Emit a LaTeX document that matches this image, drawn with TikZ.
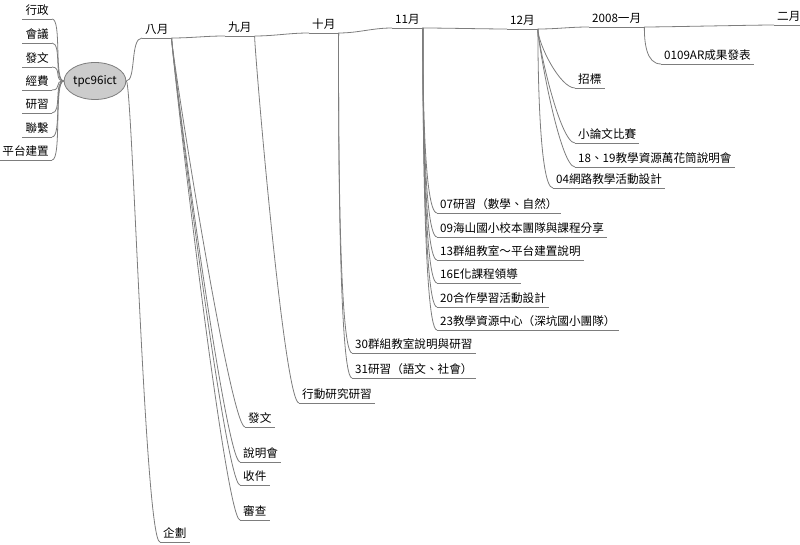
\documentclass[tikz,border=0pt]{standalone}
\usepackage{fontspec}
\setmainfont{Noto Sans CJK TC}
\usepackage{tikz}
\usetikzlibrary{shapes.geometric}
\definecolor{linegray}{RGB}{125,125,125}
\definecolor{rootfill}{RGB}{204,204,204}

\begin{document}
\begin{tikzpicture}[
    x=1pt, y=-1pt,
    topic/.style={anchor=south west, inner xsep=3pt, inner ysep=3pt,
                  font=\fontsize{11.6}{13}\selectfont},
    ltopic/.style={topic, anchor=south east},
    root/.style={ellipse, draw=linegray, fill=rootfill, line width=0.8pt,
                 minimum width=54pt, minimum height=37pt, inner sep=0pt,
                 font=\fontsize{11.6}{13}\selectfont},
    conn/.style={draw=linegray, line width=0.8pt}
]
\useasboundingbox (0,0) rectangle (800,545);

% Root
\node[root] (ict) at (95,81) {tpc96ict};

% Left topics
\node[ltopic] (admin)    at (52, 19) {行政};
\node[ltopic] (meet)     at (52, 43) {會議};
\node[ltopic] (doc)      at (52, 67) {發文};
\node[ltopic] (fund)     at (52, 90) {經費};
\node[ltopic] (study)    at (52,113) {研習};
\node[ltopic] (contact)  at (52,137) {聯繫};
\node[ltopic] (platform) at (52,160) {平台建置};

% Timeline
\node[topic] (aug) at (142,38) {八月};
\node[topic] (sep) at (225,36) {九月};
\node[topic] (oct) at (309,33) {十月};
\node[topic] (nov) at (392,28) {11月};
\node[topic] (dec) at (507,29) {12月};
\node[topic] (jan) at (589,27) {2008一月};
\node[topic] (feb) at (774,25) {二月};

% Root -> plan
\node[topic] (plan) at (160,542) {企劃};

% August
\node[topic] (augdoc) at (245,427) {發文};
\node[topic] (brief)  at (240,462) {說明會};
\node[topic] (recv)   at (240,485) {收件};
\node[topic] (review) at (240,520) {審查};

% September
\node[topic] (action) at (299,403) {行動研究研習};

% October
\node[topic] (oct30) at (352,353) {30群組教室說明與研習};
\node[topic] (oct31) at (352,378) {31研習（語文、社會）};

% November
\node[topic] (nov07) at (437,213) {07研習（數學、自然）};
\node[topic] (nov09) at (437,237) {09海山國小校本團隊與課程分享};
\node[topic] (nov13) at (437,260) {13群組教室～平台建置說明};
\node[topic] (nov16) at (437,283) {16E化課程領導};
\node[topic] (nov20) at (437,307) {20合作學習活動設計};
\node[topic] (nov23) at (437,330) {23教學資源中心（深坑國小團隊）};

% December
\node[topic] (bid)   at (575, 88) {招標};
\node[topic] (essay) at (575,143) {小論文比賽};
\node[topic] (dec18) at (575,167) {18、19教學資源萬花筒說明會};
\node[topic] (dec04) at (553,188) {04網路教學活動設計};

% January
\node[topic] (jan09) at (661,64) {0109AR成果發表};

% underlines
\foreach \n in {admin,meet,doc,fund,study,contact,platform,
                aug,sep,oct,nov,dec,jan,feb,plan,augdoc,brief,recv,review,
                action,oct30,oct31,nov07,nov09,nov13,nov16,nov20,nov23,
                bid,essay,dec18,dec04,jan09}
  \draw[conn] (\n.south west) -- (\n.south east);

% left branches
\foreach \n in {admin,meet,doc,fund,study,contact,platform}
  \draw[conn] (ict.west) .. controls +(-10,0) and +(10,0) .. (\n.south east);

% root to timeline and plan
\draw[conn] (ict.east) .. controls +(10,0) and +(-12,0) .. (aug.south west);
\draw[conn] (ict.east) .. controls +(6,0) and +(-15,0) .. (plan.south west);

% timeline links
\foreach \a/\b in {aug/sep,sep/oct,oct/nov,nov/dec,dec/jan,jan/feb}
  \draw[conn] (\a.south east) .. controls +(20,0) and +(-20,0) .. (\b.south west);

% month children
\foreach \p/\c in {aug/augdoc,aug/brief,aug/recv,aug/review,sep/action,
                   oct/oct30,oct/oct31,nov/nov07,nov/nov09,nov/nov13,
                   nov/nov16,nov/nov20,nov/nov23,dec/bid,dec/essay,
                   dec/dec18,dec/dec04,jan/jan09}
  \draw[conn] (\p.south east) .. controls +(0,15) and +(-15,0) .. (\c.south west);

\end{tikzpicture}
\end{document}
